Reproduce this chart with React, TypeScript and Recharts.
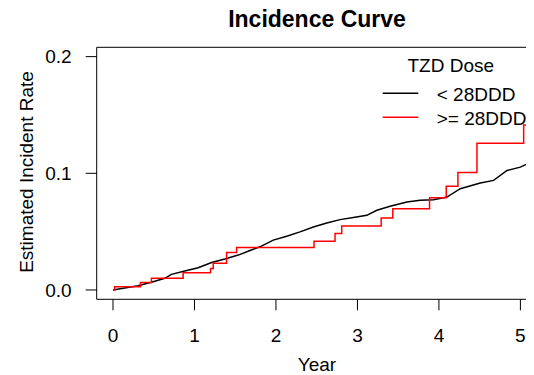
import { LineChart, Line, XAxis, YAxis, ReferenceArea } from 'recharts';

const yearTicks = [0, 1, 2, 3, 4, 5];
const rateTicks = [0, 0.1, 0.2];

// < 28DDD : many tiny steps, traced as a polyline
const lowYears = [
  0, 0.307, 0.472, 0.636, 0.718, 0.881, 1.045, 1.21, 1.373, 1.537, 1.69, 1.803, 1.967,
  2.132, 2.295, 2.459, 2.623, 2.787, 2.95, 3.115, 3.238, 3.401, 3.607, 3.77, 3.934,
  4.098, 4.262, 4.508, 4.671, 4.836, 4.999, 5.2,
];
const lowRates = [
  0, 0.0037, 0.0066, 0.01, 0.0134, 0.0162, 0.019, 0.0236, 0.0265, 0.0299, 0.034, 0.037,
  0.0427, 0.0461, 0.0498, 0.054, 0.0574, 0.0603, 0.0621, 0.064, 0.0683, 0.0717, 0.0754,
  0.0768, 0.0774, 0.0796, 0.0868, 0.0916, 0.0939, 0.1024, 0.1053, 0.1118,
];

// >= 28DDD : step curve
const highYears = [
  0, 0.02, 0.337, 0.472, 0.861, 1.197, 1.23, 1.394, 1.517, 2.467, 2.725, 2.807, 3.291,
  3.434, 3.885, 4.09, 4.233, 4.467, 5.04, 5.2,
];
const highRates = [
  0, 0.0028, 0.0063, 0.01, 0.0148, 0.0185, 0.0228, 0.0322, 0.0364, 0.0418, 0.0484,
  0.0549, 0.0617, 0.0697, 0.0791, 0.089, 0.1007, 0.1257, 0.1414, 0.1414,
];

const legendLabels = ['< 28DDD', '>= 28DDD'];
const legendColors = ['#000000', '#ff0000'];

const toPoints = (xs: number[], ys: number[]) => xs.map((x, i) => ({ year: x, rate: ys[i] }));

const FONT = '"Liberation Sans", Arial, Helvetica, sans-serif';

export default function App() {
  const low = toPoints(lowYears, lowRates);
  const high = toPoints(highYears, highRates);

  // negative margins cancel the body margin so coordinates below are page pixels;
  // the plot box runs a little past the right edge, as in the original
  return (
    <div
      style={{
        position: 'relative',
        marginTop: -8,
        marginLeft: -8,
        width: 534,
        height: 375,
        overflow: 'hidden',
        fontFamily: FONT,
      }}
    >
      <LineChart
        width={548}
        height={375}
        margin={{ top: 47.3, right: 11.3, bottom: 35.7, left: 0 }}
        style={{ fontFamily: FONT }}
      >
        <XAxis
          type="number"
          dataKey="year"
          domain={[-0.2, 5.2]}
          allowDataOverflow
          ticks={yearTicks}
          axisLine={false}
          tickLine={{ stroke: '#000' }}
          tickSize={11}
          tickMargin={18}
          height={40}
          tick={{ fontSize: 19, fill: '#000', fontFamily: FONT }}
          label={{
            content: () => (
              <text x={317} y={371} textAnchor="middle" fontSize={19} fill="#000" fontFamily={FONT}>
                Year
              </text>
            ),
          }}
        />
        <YAxis
          type="number"
          dataKey="rate"
          domain={[-0.008, 0.208]}
          allowDataOverflow
          ticks={rateTicks}
          tickFormatter={(v: number) => v.toFixed(1)}
          axisLine={false}
          tickLine={{ stroke: '#000' }}
          tickSize={11}
          tickMargin={14}
          width={96.7}
          tick={{ fontSize: 19, fill: '#000', fontFamily: FONT }}
          label={{
            content: () => (
              <text
                x={33}
                y={172}
                transform="rotate(-90, 33, 172)"
                textAnchor="middle"
                fontSize={19}
                fill="#000"
                fontFamily={FONT}
              >
                Estimated Incident Rate
              </text>
            ),
          }}
        />
        <ReferenceArea
          x1={-0.2}
          x2={5.2}
          y1={-0.008}
          y2={0.208}
          fill="none"
          fillOpacity={0}
          stroke="#000"
          strokeWidth={1}
        />
        <Line
          data={low}
          dataKey="rate"
          type="linear"
          stroke="#000000"
          strokeWidth={1.5}
          dot={false}
          isAnimationActive={false}
        />
        <Line
          data={high}
          dataKey="rate"
          type="stepAfter"
          stroke="#ff0000"
          strokeWidth={1.5}
          dot={false}
          isAnimationActive={false}
        />
      </LineChart>

      <svg
        width={534}
        height={375}
        style={{ position: 'absolute', left: 0, top: 0, pointerEvents: 'none' }}
        fontFamily={FONT}
      >
        <text x={317} y={26.7} textAnchor="middle" fontSize={23} fontWeight="bold" fill="#000">
          Incidence Curve
        </text>
        <text x={450.8} y={71.7} textAnchor="middle" fontSize={19} fill="#000">
          TZD Dose
        </text>
        {legendLabels.map((name, i) => {
          const y = 93.3 + i * 24;
          return (
            <g key={name}>
              <line x1={382.7} x2={418.3} y1={y} y2={y} stroke={legendColors[i]} strokeWidth={1.5} />
              <text x={436.7} y={y + 7.5} fontSize={19} fill="#000">
                {name}
              </text>
            </g>
          );
        })}
      </svg>
    </div>
  );
}
